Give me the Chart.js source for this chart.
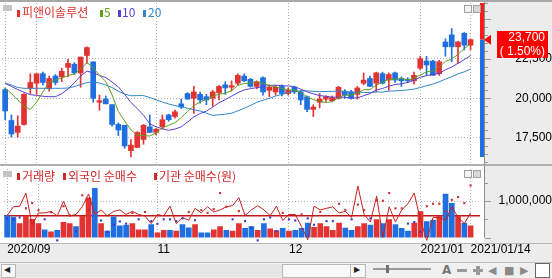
<!DOCTYPE html>
<html><head><meta charset="utf-8">
<script src="https://cdn.jsdelivr.net/npm/chart.js@4.4.1/dist/chart.umd.min.js"></script>
<style>
html,body{margin:0;padding:0;background:#fff;}
body{width:552px;height:278px;position:relative;overflow:hidden;}
.a{position:absolute;}
canvas{position:absolute;left:0;}
.t{position:absolute;font:12px/16px "Noto Sans CJK KR","Noto Sans",sans-serif;white-space:nowrap;}
.m{position:absolute;width:3px;height:7px;}
.ic{position:absolute;width:6px;height:6px;border:1px solid #a0a0a0;background:#f2f2f2;}
.g{position:absolute;font:11px/14px "DejaVu Sans",sans-serif;color:#8a8a8a;}
</style></head><body>
<div class="a" style="left:484px;top:0;width:68px;height:262px;background:#ececec"></div>
<div class="a" style="left:0;top:243px;width:552px;height:19px;background:#ececec;border-top:1px solid #b8b8b8"></div>
<div class="a" style="left:0;top:0;width:552px;height:2px;background:#a8a8a8"></div>
<div class="a" style="left:0;top:164px;width:552px;height:2px;background:#b0b0b0"></div>
<canvas id="pc" width="552" height="165" style="top:0"></canvas>
<canvas id="vc" width="552" height="97" style="top:165px"></canvas>

<!-- price legend -->
<div class="a" style="left:3px;top:5px;width:9px;height:6px;background:#c4c4c4"></div>
<div class="m" style="left:17px;top:10px;background:#e03030"></div>
<div class="t" style="left:22px;top:4px;color:#e03030">피앤이솔루션</div>
<div class="m" style="left:100px;top:10px;background:#5c9e1e"></div>
<div class="t" style="left:104px;top:4px;color:#5c9e1e">5</div>
<div class="m" style="left:118px;top:10px;background:#5a3fd0"></div>
<div class="t" style="left:122px;top:4px;color:#5a3fd0">10</div>
<div class="m" style="left:143px;top:10px;background:#2f86c8"></div>
<div class="t" style="left:148px;top:4px;color:#2f86c8">20</div>
<div class="ic" style="left:464px;top:5px"></div>
<div class="ic" style="left:473px;top:5px;background:#d8d8d8"></div>

<!-- volume legend -->
<div class="a" style="left:3px;top:171px;width:9px;height:6px;background:#c4c4c4"></div>
<div class="m" style="left:17px;top:173px;background:#d02828"></div>
<div class="t" style="left:22px;top:168px;color:#d02828">거래량</div>
<div class="m" style="left:63px;top:173px;background:#d02828"></div>
<div class="t" style="left:68px;top:168px;color:#d02828">외국인 순매수</div>
<div class="m" style="left:154px;top:173px;background:#d02828"></div>
<div class="t" style="left:159px;top:168px;color:#d02828">기관 순매수(원)</div>
<div class="ic" style="left:464px;top:170px"></div>
<div class="ic" style="left:473px;top:170px;background:#d8d8d8"></div>

<!-- bottom toolbar -->
<div class="a" style="left:0;top:262px;width:552px;height:16px;background:#f0f0f0;border-top:1px solid #c0c0c0"></div>
<div class="a" style="left:1px;top:264px;width:13px;height:12px;background:#f8f8f8;border:1px solid #b8b8b8"></div>
<div class="g" style="left:4px;top:263px;color:#222;font-size:8px">◀</div>
<div class="a" style="left:16px;top:264px;width:266px;height:13px;background:#e6e6e6"></div>
<div class="a" style="left:282px;top:264px;width:67px;height:12px;background:#f8f8f8;border:1px solid #b8b8b8"></div>
<div class="a" style="left:350px;top:264px;width:14px;height:12px;background:#f8f8f8;border:1px solid #b8b8b8"></div>
<div class="g" style="left:354px;top:263px;color:#222;font-size:8px">▶</div>
<div class="a" style="left:373px;top:268px;width:58px;height:2px;background:#9a9a9a"></div>
<div class="a" style="left:386px;top:265px;width:3px;height:8px;background:#707070"></div>
<div class="g" style="left:442px;top:263px;font-weight:bold;font-size:12px;color:#777">A</div>
<div class="a" style="left:457px;top:269px;width:10px;height:3px;background:#9a9a9a"></div>
<div class="a" style="left:473px;top:269px;width:10px;height:3px;background:#9a9a9a"></div>
<div class="a" style="left:476px;top:266px;width:4px;height:9px;background:#9a9a9a"></div>
<div class="g" style="left:488px;top:264px">◀</div>
<div class="g" style="left:504px;top:264px">■</div>
<div class="g" style="left:520px;top:264px">▶</div>
<div class="a" style="left:535px;top:263px;width:13px;height:13px;background:#fff;border:1px solid #666"></div>

<script>
const dates = ['2020-09-23','2020-09-24','2020-09-25','2020-09-28','2020-09-29',
'2020-10-05','2020-10-06','2020-10-07','2020-10-08','2020-10-12','2020-10-13','2020-10-14','2020-10-15','2020-10-16',
'2020-10-19','2020-10-20','2020-10-21','2020-10-22','2020-10-23','2020-10-26','2020-10-27','2020-10-28','2020-10-29','2020-10-30',
'2020-11-02','2020-11-03','2020-11-04','2020-11-05','2020-11-06','2020-11-09','2020-11-10','2020-11-11','2020-11-12','2020-11-13',
'2020-11-16','2020-11-17','2020-11-18','2020-11-19','2020-11-20','2020-11-23','2020-11-24','2020-11-25','2020-11-26','2020-11-27','2020-11-30',
'2020-12-01','2020-12-02','2020-12-03','2020-12-04','2020-12-07','2020-12-08','2020-12-09','2020-12-10','2020-12-11',
'2020-12-14','2020-12-15','2020-12-16','2020-12-17','2020-12-18','2020-12-21','2020-12-22','2020-12-23','2020-12-24',
'2020-12-28','2020-12-29','2020-12-30',
'2021-01-04','2021-01-05','2021-01-06','2021-01-07','2021-01-08','2021-01-11','2021-01-12','2021-01-13','2021-01-14'];

const opens = [20550,18600,17850,18350,20650,20950,21550,20600,21400,21350,
21950,22150,21600,22700,22300,19750,19950,19600,18350,18300,
16700,16900,17400,18200,17850,18200,18950,18850,19650,20300,
20000,20250,20100,20000,20350,20850,20700,20950,21400,21200,
20750,21300,20500,20400,20750,20300,20700,20400,20100,19300,
19750,19950,19850,20000,20450,20400,20250,20950,21250,20950,
21550,21150,21600,21250,21200,21100,21900,22350,22350,21550,
23550,24000,23250,24100,23350];
const highs = [20650,18950,18900,20300,21550,21550,21650,21400,21500,21900,
22450,22250,22600,23250,22300,20200,20150,19600,18450,18300,
17400,17900,18350,18950,18100,18950,19000,19250,19950,20350,
20750,20400,20250,20500,20800,21050,21100,21550,21550,21250,
21100,21350,20850,20800,20850,20650,20750,20500,20150,19600,
20300,20150,20150,20750,20550,20500,20750,21600,21400,21650,
21650,21600,21650,21350,21300,21650,22650,22650,22400,22400,
23750,24400,23600,24150,23750];
const lows = [18650,17550,17550,18300,20300,20250,20850,20450,20850,21050,
21350,21500,20700,22200,19750,19250,19650,18250,17650,16850,
16300,16900,17100,17850,17700,18050,18550,18750,19350,19950,
19050,19700,19600,19500,19900,20250,20450,20850,21050,20700,
20600,20200,20100,20200,20150,20200,20300,19600,19150,18850,
19400,19800,19800,19950,20000,19950,19950,20850,20750,20400,
20900,20500,21000,20750,21000,20900,21800,21450,21450,21450,
22650,22300,22200,23050,23050];
const closes = [19200,17750,18250,20250,21000,21550,21000,21250,21000,21700,
22200,21600,22600,23200,20000,19850,19650,18350,18000,17000,
17050,17850,18300,17850,18050,18650,18650,19150,19450,19950,
20400,19900,19900,20400,20750,20650,20800,21450,21100,20750,
21050,20400,20700,20700,20300,20500,20400,19900,19300,19450,
19950,20100,20050,20700,20200,20000,20650,21150,20750,21600,
20950,21500,21150,21100,21100,21450,22500,22100,21450,22300,
23250,23250,23550,23350,23700];

const ma5 = [20650,20300,19900,19500,19290,19750,20400,21000,21150,21290,
21430,21550,21820,22260,21920,21450,21060,20210,19170,18570,
18010,17660,17650,17620,17830,18140,18300,18460,18790,19170,
19520,19780,19920,20110,20270,20310,20490,20810,20940,20950,
21030,20960,20800,20720,20630,20530,20530,20370,20090,19920,
19810,19740,19780,20050,20200,20210,20320,20540,20550,20830,
21020,21200,21200,21260,21160,21270,21470,21660,21730,21970,
22330,22470,22770,23140,23420];
const ma10 = [20950,20750,20550,20380,20230,20180,20130,20100,20100,20290,
20590,20980,21410,21710,21610,21440,21310,21020,20720,20250,
19730,19360,18930,18390,18200,18080,17980,18060,18200,18500,
18830,19040,19190,19450,19720,19920,20130,20360,20530,20610,
20670,20730,20810,20830,20790,20780,20740,20580,20410,20280,
20170,20130,20070,20070,20060,20010,20030,20160,20300,20520,
20620,20760,20870,20910,21000,21140,21330,21430,21500,21570,
21800,21970,22210,22440,22700];
const ma20 = [20960,20840,20680,20630,20630,20630,20630,20630,20630,20630,
20650,20740,20870,20990,21040,20960,20840,20680,20450,20270,
20160,20170,20170,20050,19900,19760,19640,19540,19460,19370,
19280,19200,19060,18920,18960,19000,19060,19210,19370,19550,
19750,19880,20000,20140,20250,20350,20440,20470,20470,20440,
20420,20430,20440,20450,20430,20390,20390,20370,20350,20400,
20390,20450,20470,20490,20530,20580,20680,20790,20900,21040,
21210,21360,21540,21670,21850];

const volumes = [600000,560000,380000,590000,500000,380000,215000,155000,200000,420000,
380000,300000,590000,1085000,1350000,380000,175000,570000,320000,340000,
380000,215000,215000,355000,130000,200000,200000,180000,355000,270000,
355000,130000,130000,215000,300000,200000,180000,380000,250000,300000,
200000,380000,240000,190000,250000,180000,200000,250000,400000,280000,
380000,300000,200000,400000,260000,200000,300000,380000,340000,490000,
380000,490000,355000,255000,175000,400000,710000,440000,480000,590000,
1190000,940000,590000,400000,320000];
// net buying, million won
const foreignNet = [0,97,103,247,-103,30,30,47,-3,157,
-3,13,97,237,13,63,-3,47,63,13,
47,13,-3,-87,13,-3,103,-87,-20,-50,
80,30,97,40,63,97,110,197,0,63,
110,63,0,103,-53,13,13,-120,-263,103,
63,80,97,30,47,-20,323,13,-70,213,
-237,97,-70,63,130,247,-53,-270,-20,-20,
-50,97,-20,-87,30];
const instNet = [-30,-43,-20,80,137,60,-40,37,-270,103,
3,-170,223,60,30,-53,-177,-100,-63,-87,
30,-40,40,-60,-90,-40,-40,-60,-30,40,
-50,60,30,70,247,97,-40,50,-60,-130,
-270,-40,-20,-170,30,-40,-53,13,-30,-100,
40,-60,-60,130,63,-40,120,60,-30,170,
163,247,80,80,-87,-70,-177,103,130,130,
47,173,203,137,330];

const tickIdx = [0,24,45,66,74];
const tickLabels = ['2020/09','11','12','2021/01','2021/01/14'];
const gridIdx = [0,5,24,45,66,74];
const priceTicks = [17500,20000,22500];
const volTicks = [1000000];

const UP = '#e23232', DOWN = '#1f6fe0';
const labels = dates.concat(['']);
const isUp = closes.map((c,i)=> c >= opens[i]);
const candleCol = isUp.map(u => u ? UP : DOWN);
const fmt = v => Number(v).toLocaleString('en-US');
const gridCol = c => gridIdx.includes(c.index) ? '#b0b0b0' : 'rgba(0,0,0,0)';
const axFont = {family:'"Liberation Sans", Arial, sans-serif', size:12};
const yFont = {family:'"Liberation Sans", Arial, sans-serif', size:12, lineHeight:0.3};

const common = {
  responsive:false, animation:false, devicePixelRatio:1, events:[],
  plugins:{legend:{display:false}, tooltip:{enabled:false}}
};

const pricePlugin = {
  id:'priceDeco',
  afterDraw(chart){
    const {ctx, chartArea:a, scales:{y}} = chart;
    const last = closes[closes.length-1], prev = closes[closes.length-2];
    const yl = y.getPixelForValue(last);
    const yMin = y.getPixelForValue(Math.min(...lows));
    ctx.save();
    ctx.fillStyle = '#ff1a1a'; ctx.fillRect(480, a.top, 4, yl - a.top);
    ctx.fillStyle = DOWN; ctx.fillRect(480, yl, 4, yMin - yl);
    ctx.strokeStyle = '#8c8c8c'; ctx.lineWidth = 1;
    ctx.beginPath(); ctx.moveTo(484.5, 2); ctx.lineTo(484.5, chart.height); ctx.stroke();
    ctx.strokeStyle = '#9a9a9a';
    for (let v = 16000; v <= 26000; v += 500) {
      const py = Math.round(y.getPixelForValue(v)) + .5;
      if (py < a.top || py > a.bottom) continue;
      ctx.beginPath(); ctx.moveTo(485, py); ctx.lineTo(v % 2500 === 0 ? 491 : 488, py); ctx.stroke();
    }
    ctx.fillStyle = '#ff0000';
    ctx.beginPath(); ctx.moveTo(484, yl); ctx.lineTo(491, yl-5); ctx.lineTo(491, yl+5); ctx.closePath(); ctx.fill();
    ctx.fillRect(497, Math.round(yl - 8.5), 51, 27);
    ctx.fillStyle = '#fff'; ctx.font = '12px "Liberation Sans", Arial, sans-serif';
    ctx.textAlign = 'right'; ctx.textBaseline = 'middle';
    ctx.fillText(fmt(last), 545, yl - 1.5);
    ctx.fillText('( ' + ((last - prev) / prev * 100).toFixed(2) + '%)', 545, yl + 12);
    ctx.restore();
  }
};

new Chart(document.getElementById('pc'), {
  type:'bar',
  data:{ labels, datasets:[
    {type:'line', data:ma5, borderColor:'#5c9e1e', borderWidth:1, pointRadius:0, order:0, yAxisID:'y'},
    {type:'line', data:ma10, borderColor:'#5a3fd0', borderWidth:1, pointRadius:0, order:0, yAxisID:'y'},
    {type:'line', data:ma20, borderColor:'#2f86c8', borderWidth:1, pointRadius:0, order:0, yAxisID:'y'},
    {data:opens.map((o,i)=>[Math.min(o,closes[i]), Math.max(o,closes[i])]), backgroundColor:candleCol,
      barThickness:5, grouped:false, order:1, yAxisID:'y'},
    {data:lows.map((l,i)=>[l, highs[i]]), backgroundColor:candleCol, barThickness:1, grouped:false, order:2, yAxisID:'y'}
  ]},
  options:{...common,
    layout:{padding:{left:2, top:3, bottom:2, right:0}},
    scales:{
      x:{offset:true, ticks:{display:false}, grid:{offset:false, drawTicks:false, color:gridCol}, border:{display:false, dash:[1,2]}},
      y:{position:'right', min:15920, max:26010,
        afterBuildTicks:s=>{s.ticks = priceTicks.map(v=>({value:v}));},
        afterFit:s=>{s.width = 72;},
        ticks:{crossAlign:'far', padding:0, color:'#000', font:yFont, callback:v=>fmt(v)},
        grid:{color:'#b0b0b0', drawTicks:true, tickLength:29, tickColor:'rgba(0,0,0,0)'}, border:{display:false, dash:[1,2]}}
    }
  },
  plugins:[pricePlugin]
});

const volPlugin = {
  id:'volDeco',
  afterDraw(chart){
    const {ctx, chartArea:a, scales:{yv}} = chart;
    ctx.save();
    ctx.strokeStyle = '#8c8c8c'; ctx.lineWidth = 1;
    ctx.beginPath(); ctx.moveTo(484.5, 1); ctx.lineTo(484.5, a.bottom); ctx.stroke();
    ctx.strokeStyle = '#9a9a9a';
    for (let v = 0; v <= 1800000; v += 500000) {
      const py = Math.round(yv.getPixelForValue(v)) + .5;
      if (py < a.top || py > a.bottom + 1) continue;
      ctx.beginPath(); ctx.moveTo(485, py); ctx.lineTo(v % 1000000 === 0 ? 491 : 488, py); ctx.stroke();
    }
    ctx.restore();
  }
};

new Chart(document.getElementById('vc'), {
  type:'bar',
  data:{ labels, datasets:[
    {type:'line', data:instNet, yAxisID:'yn', showLine:false, pointStyle:'rect', pointRadius:1.5, pointBorderWidth:0,
      pointBackgroundColor:instNet.map(v=> v >= 0 ? '#c83232' : '#3a3acc'), order:0, clip:false},
    {type:'line', data:foreignNet, yAxisID:'yn', borderColor:'#c81e1e', borderWidth:1, pointRadius:0, order:1, clip:false},
    {data:volumes, yAxisID:'yv', backgroundColor:candleCol, barThickness:5, grouped:false, order:2}
  ]},
  options:{...common,
    layout:{padding:{left:2, top:2, bottom:0, right:0}},
    scales:{
      x:{offset:true,
        ticks:{autoSkip:false, maxRotation:0, minRotation:0, align:'start', padding:5, color:'#000', font:axFont,
          callback:(v,i)=>{ const k = tickIdx.indexOf(i); return k >= 0 ? tickLabels[k] : ''; }},
        grid:{offset:false, drawTicks:false, color:gridCol}, border:{display:false, dash:[1,2]}},
      yv:{position:'right', min:0, max:1875000,
        afterBuildTicks:s=>{s.ticks = volTicks.map(v=>({value:v}));},
        afterFit:s=>{s.width = 72;},
        ticks:{crossAlign:'far', padding:0, color:'#000', font:yFont, callback:v=>fmt(v)},
        grid:{color:'#b0b0b0', drawTicks:true, tickLength:13, tickColor:'rgba(0,0,0,0)'}, border:{display:false, dash:[1,2]}},
      yn:{position:'left', min:-240, max:510,
        afterBuildTicks:s=>{s.ticks = [{value:0}];},
        afterFit:s=>{s.width = 0;},
        ticks:{display:false}, grid:{color:'#c01818', lineWidth:1.5, drawTicks:false}, border:{display:false}}
    }
  },
  plugins:[volPlugin]
});
</script>
</body></html>
